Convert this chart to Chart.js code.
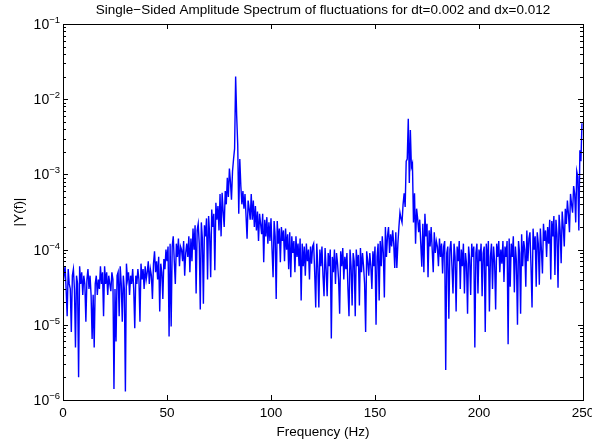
<!DOCTYPE html>
<html>
<head>
<meta charset="utf-8">
<script src="https://cdn.jsdelivr.net/npm/chart.js@4/dist/chart.umd.min.js"></script>
<style>
  html, body { margin: 0; padding: 0; background: #fff; }
  #wrap { width: 592px; height: 444px; }
</style>
</head>
<body>
<div id="wrap"><canvas id="spec" width="592" height="444"></canvas></div>
<script>
// |Y(f)|, one value per 0.5 Hz bin
const FREQ_STEP = 0.5;

const amp0to50 = [
  3.5e-5, 4.5e-5, 6e-5, 3e-5, 1.3e-5, 5.5e-5, 3.5e-5, 3e-5, 8e-6, 4.5e-5,
  5.5e-5, 3e-5, 5e-6, 4.5e-5, 3.5e-5, 2e-6, 6e-5, 3.5e-5, 5e-5, 2.5e-5,
  4.5e-5, 3.5e-5, 1.1e-5, 4e-5, 5.5e-5, 3e-5, 4.5e-5, 2.5e-5, 6.5e-6, 2.5e-5,
  5e-6, 3.5e-5, 4.5e-5, 2.5e-5, 4e-5, 3e-5, 6e-5, 3.5e-5, 5e-5, 1.3e-5,
  6e-5, 3.5e-5, 5e-5, 2.5e-5, 4.5e-5, 3.5e-5, 2.8e-5, 5e-5, 4e-5, 1.4e-6,
  3e-5, 6e-6, 4.5e-5, 5e-5, 1.3e-5, 6e-5, 3.5e-5, 1.1e-5, 4.5e-5, 3e-5,
  1.3e-6, 6.5e-5, 4e-5, 5e-5, 2.5e-5, 4.5e-5, 3.5e-5, 5.5e-5, 3e-5, 9e-6,
  4.5e-5, 3.5e-5, 5.5e-5, 4e-5, 1.1e-5, 6.5e-5, 4e-5, 5.5e-5, 3e-5, 6e-5,
  4e-5, 5e-5, 7e-5, 3.5e-5, 5.5e-5, 4.5e-5, 2.2e-5, 6.5e-5, 9.5e-5, 5e-5,
  7e-5, 4e-5, 8e-5, 1.5e-5, 6.5e-5, 5e-5, 2.2e-5, 7.5e-5, 5.5e-5, 1e-4,
];

const amp50to100 = [
  7e-5, 1.1e-4, 7e-6, 1.2e-4, 9.5e-6, 1.1e-4, 1.5e-4, 7e-5, 3.5e-5, 1.2e-4,
  8e-5, 1.4e-4, 6e-5, 1.1e-4, 1e-4, 7e-5, 1.3e-4, 4.5e-5, 9e-5, 1.2e-4,
  8e-5, 1.5e-4, 5e-5, 1.4e-4, 7e-5, 1.9e-4, 1e-4, 2.1e-4, 2.6e-5, 1.8e-4,
  2.2e-4, 1.2e-4, 1.6e-5, 2.3e-4, 1.4e-4, 1.9e-5, 2.1e-4, 1.5e-4, 2.6e-4, 4e-5,
  2.8e-4, 1.6e-4, 4.3e-5, 3.4e-4, 2e-4, 3e-4, 5.3e-5, 4.2e-4, 2.5e-4, 3.8e-4,
  1.8e-4, 5.5e-4, 1.5e-4, 5.7e-4, 3.2e-4, 2e-4, 6e-4, 4e-4, 9e-4, 5e-4,
  1.2e-3, 8e-4, 4.6e-4, 1.1e-3, 1.6e-3, 2.2e-3, 2e-2, 6e-3, 2.5e-3, 3e-4,
  1.6e-3, 7e-4, 4e-4, 6e-4, 3.5e-4, 5.5e-4, 2.8e-4, 1.4e-4, 4.5e-4, 3.5e-4,
  2.5e-4, 5.5e-4, 2.5e-4, 4.5e-4, 2e-4, 3.8e-4, 1.8e-4, 3.2e-4, 1.3e-4, 3e-4,
  2.2e-4, 1.6e-4, 3e-4, 6.8e-5, 2.5e-4, 1.5e-4, 2.7e-4, 1.2e-4, 2.3e-4, 1.3e-4,
];

const amp100to150 = [
  2.6e-4, 1e-4, 4.3e-5, 2.4e-4, 1.5e-4, 2.2e-5, 2.4e-4, 1.2e-4, 1.9e-4, 6.8e-5,
  2e-4, 1.3e-4, 1.8e-4, 7e-5, 1.9e-4, 1e-4, 1.6e-4, 5.5e-5, 1.7e-4, 4.3e-5,
  1.5e-4, 9e-5, 1.3e-4, 5e-5, 1.5e-4, 8e-5, 1.2e-4, 6e-5, 1.4e-4, 2.1e-5,
  1.2e-4, 6e-5, 1.1e-4, 4.5e-5, 1.2e-4, 7e-5, 1e-4, 4e-5, 1.1e-4, 6.5e-5,
  1.1e-4, 1.2e-4, 5e-5, 1.7e-5, 1.2e-4, 6e-5, 1.7e-5, 1e-4, 6e-5, 1.1e-4,
  4.5e-5, 2.4e-5, 1.05e-4, 5.5e-5, 2.4e-5, 9e-5, 6e-5, 1e-4, 6.6e-6, 8e-5,
  5e-5, 1e-4, 3.5e-5, 9e-5, 6.5e-5, 4e-5, 1.4e-5, 9.5e-5, 6e-5, 1.05e-4,
  4e-5, 8e-5, 5.5e-5, 9e-5, 3e-5, 1.3e-5, 1e-4, 6e-5, 1.8e-5, 9e-5,
  7e-5, 1.3e-5, 1e-4, 6e-5, 8.5e-5, 1.8e-5, 1.05e-4, 5e-5, 9e-5, 6e-5,
  3.5e-5, 8e-6, 9.5e-5, 7e-5, 4.5e-5, 9e-5, 6e-5, 3e-5, 9.5e-5, 6e-5,
];

const amp150to200 = [
  1.1e-4, 1e-5, 8e-5, 1.2e-4, 2.1e-5, 1.3e-4, 6e-5, 1.5e-4, 9e-5, 2.3e-5,
  2e-4, 8e-5, 1.5e-4, 2e-4, 9e-5, 1.6e-4, 1.1e-4, 1.8e-4, 1.2e-4, 5.7e-5,
  1.7e-4, 5.7e-5, 1.2e-4, 2e-4, 3.1e-4, 2.6e-4, 2.3e-4, 4e-4, 5.6e-4, 3.7e-4,
  1.5e-3, 1.6e-3, 5.5e-3, 7.7e-4, 3.9e-3, 1.25e-3, 1.4e-3, 2.3e-4, 5.6e-4, 1.2e-4,
  3.5e-4, 2.6e-4, 1.7e-4, 2.5e-4, 1.2e-4, 5.9e-5, 2.2e-4, 5e-5, 3e-4, 1.5e-4,
  2.2e-4, 4.3e-5, 1.8e-4, 1.1e-4, 2e-4, 1e-4, 5e-5, 1.7e-4, 9e-5, 1.3e-4,
  1.1e-4, 6e-5, 1.4e-4, 8e-5, 1.2e-4, 4.8e-5, 1.1e-4, 1.3e-4, 2.5e-6, 9e-5,
  1.1e-4, 1.2e-5, 1e-4, 1.3e-4, 6e-5, 2.6e-5, 1.2e-4, 8e-5, 1.5e-5, 1.1e-4,
  7e-5, 1.3e-4, 3e-5, 1e-4, 6e-5, 1.2e-4, 2.6e-5, 9e-5, 6.5e-5, 1.4e-5,
  1.1e-4, 7.5e-5, 2.5e-5, 1.2e-4, 8e-5, 1.1e-4, 5e-6, 9e-5, 1.2e-4, 2.6e-5,
];

const amp200to250 = [
  1e-4, 7e-5, 1.2e-4, 2.4e-5, 9e-5, 1.1e-4, 8e-6, 1.2e-4, 6e-5, 1.3e-4,
  1.5e-5, 8e-5, 1.2e-4, 3e-5, 1.1e-4, 7e-5, 1.6e-5, 1.2e-4, 8e-5, 1.3e-4,
  5e-5, 1e-4, 6.5e-5, 1.3e-4, 3.7e-5, 1.1e-4, 8e-5, 1.3e-4, 5.5e-6, 1.4e-4,
  3.2e-5, 1.2e-4, 8e-5, 1.5e-4, 2.7e-5, 1.1e-4, 7e-5, 1e-5, 1.3e-4, 9e-5,
  1.4e-5, 1.6e-4, 6e-5, 1.3e-4, 1e-4, 3.2e-5, 1.8e-4, 7e-5, 1.4e-4, 1.7e-4,
  6e-5, 1.7e-5, 1.9e-4, 1e-4, 1.5e-4, 3.2e-5, 1.7e-4, 1.2e-4, 3.4e-5, 1.9e-4,
  1e-4, 4.8e-5, 2.2e-4, 1.3e-4, 1.8e-4, 8e-5, 2e-4, 1.2e-4, 2.5e-4, 4e-5,
  2.4e-4, 1.5e-4, 2.8e-4, 4.6e-5, 2.5e-4, 1.6e-4, 3.1e-5, 2.9e-4, 1.8e-4, 6.6e-5,
  3.2e-4, 2e-4, 1.1e-4, 3.5e-4, 2.2e-4, 4.5e-4, 3e-4, 1.7e-4, 5.5e-4, 4e-4,
  3.1e-4, 7e-4, 5.5e-4, 2.3e-4, 1.1e-3, 9.3e-4, 1.8e-4, 2.1e-3, 1.5e-3, 4.8e-3,
];

const amplitude = [].concat(amp0to50, amp50to100, amp100to150, amp150to200, amp200to250);

const xTickValues = [0, 50, 100, 150, 200, 250];
const yDecades = [-6, -5, -4, -3, -2, -1];

const titleText = 'Single\u2212Sided Amplitude Spectrum of fluctuations for dt=0.002 and dx=0.012';
const xLabelText = 'Frequency (Hz)';
const yLabelText = '|Y(f)|';

const FONT = '"Liberation Sans", Arial, Helvetica, sans-serif';

// MATLAB-looking box, inward ticks and 10^n labels
const matlabAxes = {
  id: 'matlabAxes',
  afterDraw(chart) {
    const { ctx, chartArea: a, scales } = chart;
    const xs = scales.x, ys = scales.y;
    ctx.save();
    ctx.strokeStyle = '#000';
    ctx.lineWidth = 1;
    ctx.strokeRect(Math.round(a.left) + 0.5, Math.round(a.top) + 0.5,
      Math.round(a.right - a.left), Math.round(a.bottom - a.top));

    ctx.beginPath();
    xTickValues.forEach(v => {
      const px = Math.round(xs.getPixelForValue(v)) + 0.5;
      ctx.moveTo(px, a.bottom); ctx.lineTo(px, a.bottom - 5);
      ctx.moveTo(px, a.top); ctx.lineTo(px, a.top + 5);
    });
    yDecades.forEach((d, i) => {
      for (let m = 1; m <= 9; m++) {
        if (m > 1 && i === yDecades.length - 1) break;
        const py = Math.round(ys.getPixelForValue(m * Math.pow(10, d))) + 0.5;
        const len = m === 1 ? 5 : 3;
        ctx.moveTo(a.left, py); ctx.lineTo(a.left + len, py);
        ctx.moveTo(a.right, py); ctx.lineTo(a.right - len, py);
      }
    });
    ctx.stroke();

    ctx.fillStyle = '#000';
    ctx.font = '13.5px ' + FONT;
    ctx.textAlign = 'center';
    ctx.textBaseline = 'middle';
    xTickValues.forEach(v => {
      ctx.fillText(String(v), xs.getPixelForValue(v), a.bottom + 13);
    });

    yDecades.forEach(d => {
      const py = ys.getPixelForValue(Math.pow(10, d));
      const ex = '\u2212' + Math.abs(d);
      ctx.font = '9.5px ' + FONT;
      const ew = ctx.measureText(ex).width;
      ctx.textAlign = 'left';
      ctx.textBaseline = 'alphabetic';
      ctx.fillText(ex, a.left - 3 - ew, py - 1);
      ctx.font = '14px ' + FONT;
      ctx.textAlign = 'right';
      ctx.fillText('10', a.left - 3 - ew, py + 5);
    });

    ctx.font = '13.5px ' + FONT;
    ctx.textAlign = 'center';
    ctx.textBaseline = 'alphabetic';
    ctx.fillText(titleText, (a.left + a.right) / 2, 14);
    ctx.fillText(xLabelText, (a.left + a.right) / 2, a.bottom + 36);
    ctx.translate(23, (a.top + a.bottom) / 2);
    ctx.rotate(-Math.PI / 2);
    ctx.fillText(yLabelText, 0, 0);
    ctx.restore();
  },
};

new Chart(document.getElementById('spec').getContext('2d'), {
  type: 'line',
  data: {
    datasets: [{
      data: amplitude.map((v, i) => ({ x: i * FREQ_STEP, y: v })),
      borderColor: '#0000ff',
      borderWidth: 1.4,
      pointRadius: 0,
      tension: 0,
      fill: false,
    }],
  },
  options: {
    responsive: false,
    animation: false,
    events: [],
    layout: { padding: { top: 24, right: 9, left: 0, bottom: 0 } },
    plugins: { legend: { display: false }, tooltip: { enabled: false }, title: { display: false } },
    scales: {
      x: {
        type: 'linear', min: 0, max: 250,
        grid: { display: false }, border: { display: false },
        ticks: { display: false },
        afterFit: s => { s.height = 44; },
      },
      y: {
        type: 'logarithmic', min: 1e-6, max: 1e-1,
        grid: { display: false }, border: { display: false },
        ticks: { display: false },
        afterFit: s => { s.width = 63; },
      },
    },
  },
  plugins: [matlabAxes],
});
</script>
</body>
</html>
